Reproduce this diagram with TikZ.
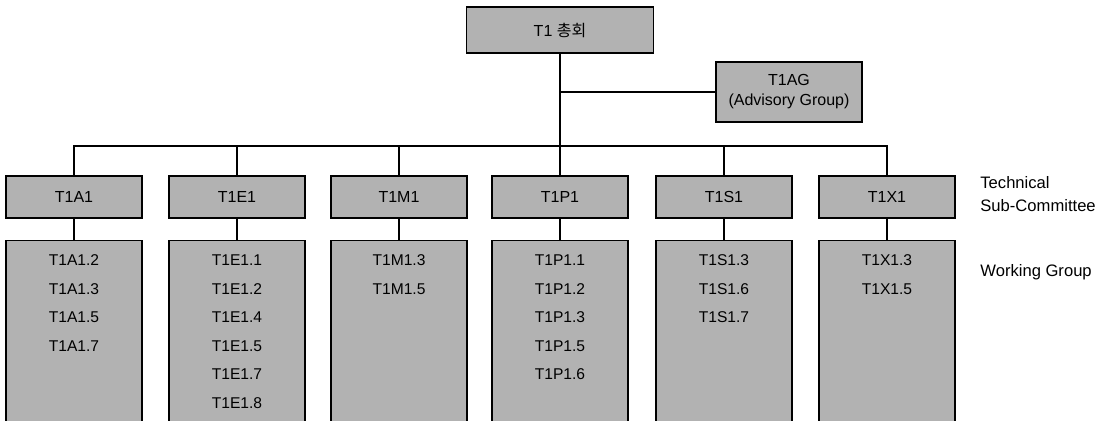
\documentclass[tikz,border=0pt]{standalone}
\usepackage{fontspec}
\setmainfont{Liberation Sans}
\newfontfamily\kor{Noto Sans CJK KR}

\begin{document}
\begin{tikzpicture}[
  x=0.5pt,
  y=-0.5pt,
  box/.style={draw, line width=0.7pt, fill=black!30, inner sep=0pt, align=center,
    font=\fontsize{8}{10}\selectfont},
  sub/.style={box, minimum width=68pt, minimum height=21pt},
  wg/.style={box, anchor=north, minimum width=68pt, minimum height=93pt},
  items/.style={anchor=north, inner sep=0pt, align=center,
    font=\fontsize{7.8}{14.25}\selectfont},
  note/.style={anchor=west, inner sep=0pt, align=left,
    font=\fontsize{8.3}{11.5}\selectfont},
  link/.style={line width=0.6pt}
]
\useasboundingbox (0,0) rectangle (1114,420);
\node[box, minimum width=93.5pt, minimum height=23pt] (gen) at (560,30) {T1 {\kor 총회}};
\node[box, minimum width=73pt, minimum height=30pt] (ag) at (789,92) {T1AG\\(Advisory Group)};
\coordinate (bus) at (560,146);
\coordinate (agj) at (560,92);
\node[sub] (a) at (74,197) {T1A1};
\node[sub] (e) at (237,197) {T1E1};
\node[sub] (m) at (399,197) {T1M1};
\node[sub] (p) at (560,197) {T1P1};
\node[sub] (s) at (724,197) {T1S1};
\node[sub] (x) at (887,197) {T1X1};
\node[wg] (wa) at (74,240) {};
\node[wg] (we) at (237,240) {};
\node[wg] (wm) at (399,240) {};
\node[wg] (wp) at (560,240) {};
\node[wg] (ws) at (724,240) {};
\node[wg] (wx) at (887,240) {};
\node[items] (la) at (74,254.5) {T1A1.2\\T1A1.3\\T1A1.5\\T1A1.7};
\node[items] (le) at (237,254.5) {T1E1.1\\T1E1.2\\T1E1.4\\T1E1.5\\T1E1.7\\T1E1.8};
\node[items] (lm) at (399,254.5) {T1M1.3\\T1M1.5};
\node[items] (lp) at (560,254.5) {T1P1.1\\T1P1.2\\T1P1.3\\T1P1.5\\T1P1.6};
\node[items] (ls) at (724,254.5) {T1S1.3\\T1S1.6\\T1S1.7};
\node[items] (lx) at (887,254.5) {T1X1.3\\T1X1.5};
\node[note] (tsc) at (980,194) {Technical\\Sub-Committee};
\node[note] (wgl) at (980,272) {Working Group};
\draw[link] (gen) -- (bus);
\draw[link] (agj) -- (ag.west);
\draw[link] (a.north) |- (bus);
\draw[link] (e.north) |- (bus);
\draw[link] (m.north) |- (bus);
\draw[link] (p.north) -- (bus);
\draw[link] (s.north) |- (bus);
\draw[link] (x.north) |- (bus);
\draw[link] (a) -- (wa);
\draw[link] (e) -- (we);
\draw[link] (m) -- (wm);
\draw[link] (p) -- (wp);
\draw[link] (s) -- (ws);
\draw[link] (x) -- (wx);
\end{tikzpicture}
\end{document}
